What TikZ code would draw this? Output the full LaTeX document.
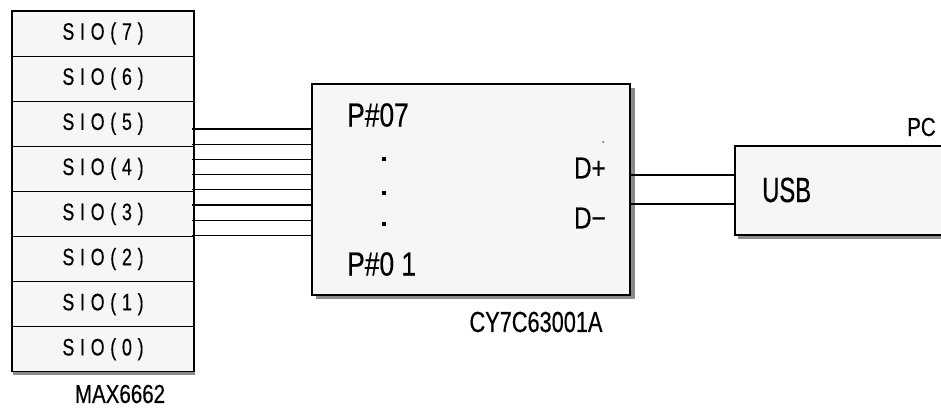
\documentclass[tikz,border=0pt]{standalone}
\usepackage{fontspec}
\setmainfont{Liberation Sans}
\newfontfamily\narrowfont[FakeStretch=0.79,FakeBold=0.4]{Liberation Sans}
\newfontfamily\usbfont[FakeStretch=0.68,FakeBold=0.4]{Liberation Sans}
\newfontfamily\cyfont[FakeStretch=0.75,FakeBold=0.4]{Liberation Sans}
\newfontfamily\sioFont[FakeStretch=0.75,FakeBold=0.4,LetterSpace=24]{Liberation Sans}
\definecolor{boxfill}{HTML}{F6F6F6}
\definecolor{shadowgray}{HTML}{8A8A8A}
\begin{document}
\begin{tikzpicture}[x=1pt,y=-1pt,
  wire/.style={line width=1.2pt,black},
  boxline/.style={draw=black,line width=1.2pt,fill=boxfill},
  siorow/.style={boxline,rectangle,minimum width=182pt,minimum height=45.1pt,inner sep=0pt,
     font=\sioFont\fontsize{23.8}{25}\selectfont},
  lbl/.style={inner sep=0pt},
]
\clip (0,0) rectangle (941,408);
\useasboundingbox (0,0) rectangle (941,408);
\fill[white] (0,0) rectangle (941,408);

% shadows
\fill[shadowgray] (13,14) rectangle (195,375);
\fill[shadowgray] (316,88) rectangle (635,299);
\fill[shadowgray] (738,149) rectangle (950,239);

% left column rows
\foreach \i/\lab in {0/7,1/6,2/5,3/4,4/3,5/2,6/1,7/0}{
  \node[siorow] (sio\lab) at (103,{11+22.55+45.1*\i}) {SIO(\lab)};
}
\node[inner sep=0pt,minimum width=182pt,minimum height=361pt] (max) at (101,191.5) {};
\node[lbl,font=\narrowfont\fontsize{26}{28}\selectfont] (maxlbl) at (120,394) {MAX6662};

% middle box
\node[boxline,rectangle,minimum width=318pt,minimum height=211pt,inner sep=0pt] (cy) at (471,189.5) {};
\node[lbl,anchor=west,font=\narrowfont\fontsize{33.4}{35}\selectfont] (p07) at (347,115) {P\#07};
\node[lbl,anchor=west,font=\narrowfont\fontsize{33.4}{35}\selectfont] (p01) at (347,264) {P\#0 1};
\foreach \yy/\nm in {159/da,193/db,224/dc}{
  \node[fill=black,inner sep=0pt,minimum size=3.6pt] (\nm) at (384,\yy) {};
}
\node[fill=black,circle,inner sep=0pt,minimum size=1.5pt] (speck) at (603,142) {};
\node[lbl,anchor=west,font=\narrowfont\fontsize{30.5}{32}\selectfont] (dp) at (574,168) {D+};
\node[lbl,anchor=west,font=\narrowfont\fontsize{30.5}{32}\selectfont] (dm) at (574,218) {D\char"2212};
\node[lbl,font=\cyfont\fontsize{29}{31}\selectfont] (cylbl) at (536,322) {CY7C63001A};

% PC box
\node[boxline,rectangle,minimum width=215pt,minimum height=89pt,inner sep=0pt] (pc) at (842.5,190.5) {};
\node[lbl,anchor=west,font=\usbfont\fontsize{35}{37}\selectfont] (usb) at (762,190) {USB};
\node[lbl,anchor=west,font=\narrowfont\fontsize{26}{28}\selectfont] (pclbl) at (907,127) {PC};

% bus wires
\foreach \yy in {129,144.2,159.4,174.6,189.8,205,220.2,235.4}{
  \draw[wire] (max.east |- 0,\yy) -- (cy.west |- 0,\yy);
}
% USB wires
\draw[wire] (cy.east |- 0,175) -- (pc.west |- 0,175);
\draw[wire] (cy.east |- 0,204) -- (pc.west |- 0,204);
\end{tikzpicture}
\end{document}
